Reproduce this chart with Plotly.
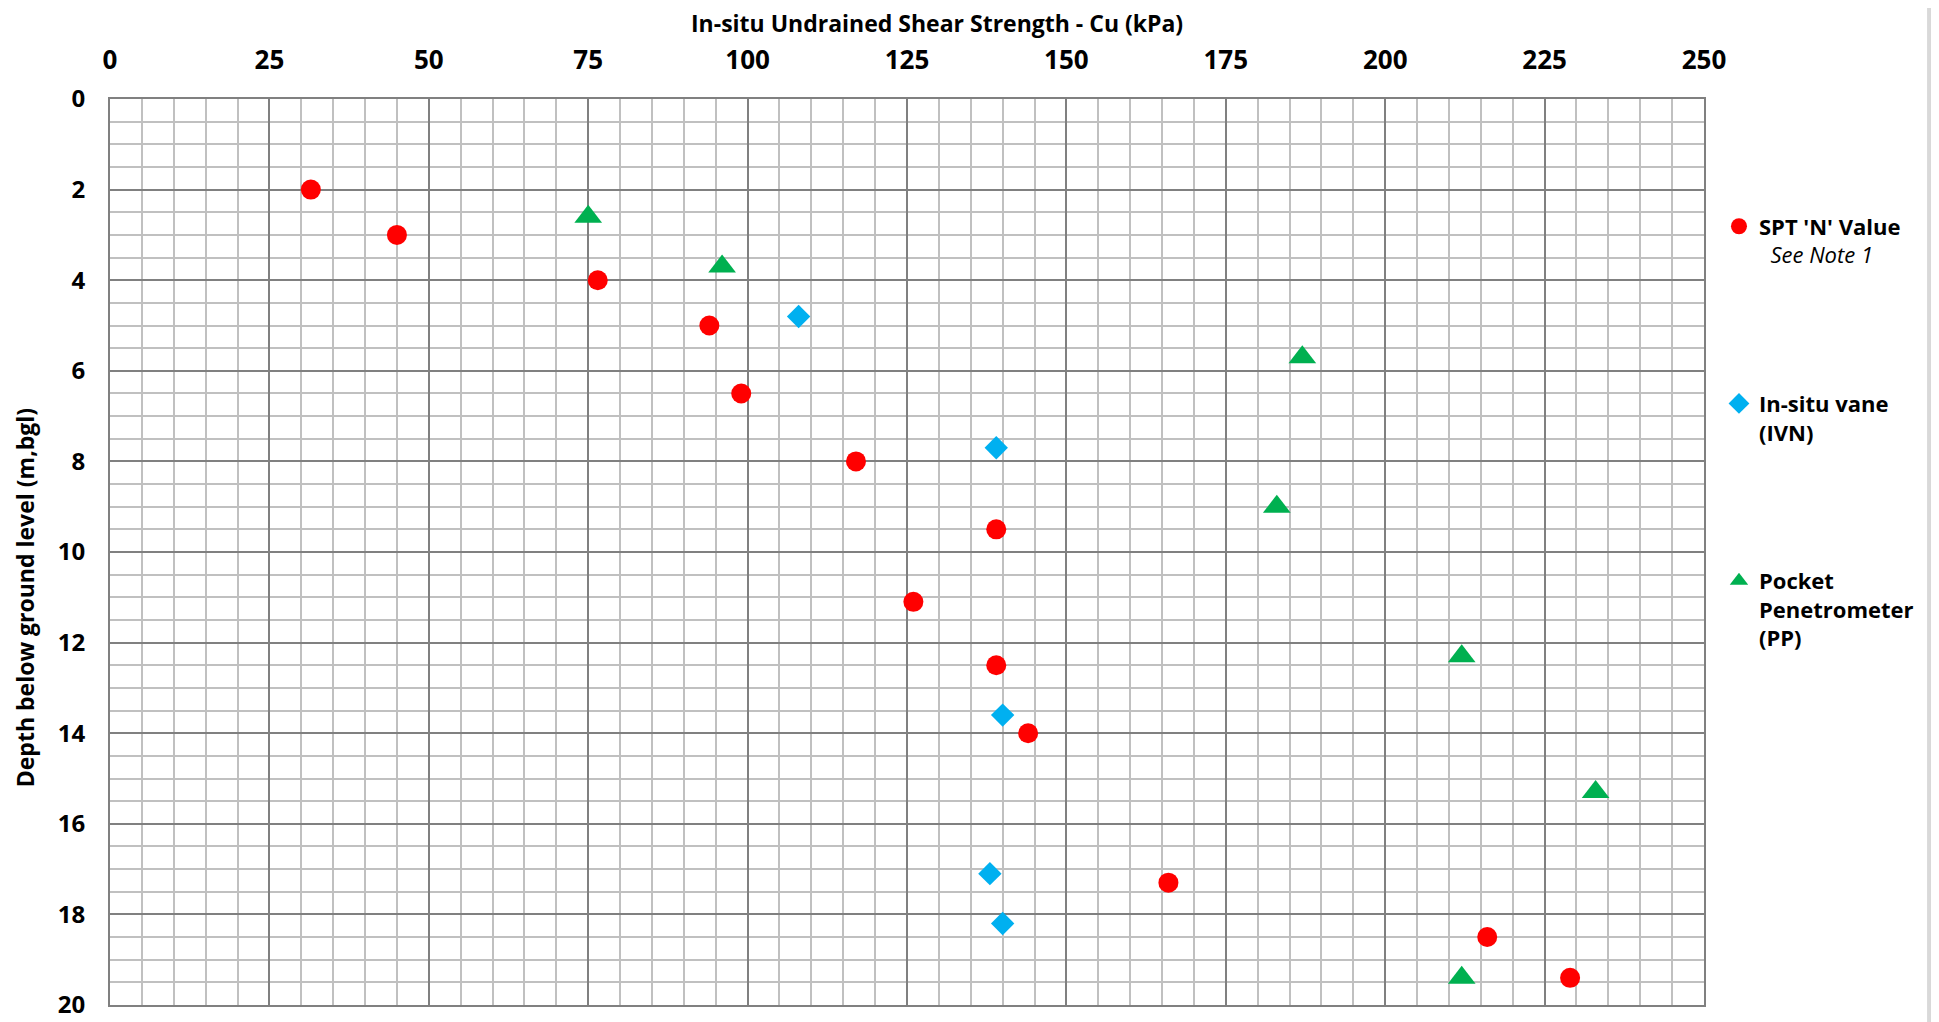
import plotly.graph_objects as go

# SPT 'N' value derived Cu (kPa) vs depth (m)
spt_cu = [31.5, 45, 76.5, 94, 99, 117, 139, 126, 139, 144, 166, 216, 229]
spt_depth = [2, 3, 4, 5, 6.5, 8, 9.5, 11.1, 12.5, 14, 17.3, 18.5, 19.4]

# In-situ vane
ivn_cu = [108, 139, 140, 138, 140]
ivn_depth = [4.8, 7.7, 13.6, 17.1, 18.2]

# Pocket penetrometer
pp_cu = [75, 96, 187, 183, 212, 233, 212]
pp_depth = [2.6, 3.7, 5.7, 9.0, 12.3, 15.3, 19.4]

FONT = "Open Sans"

fig = go.Figure()

fig.add_trace(go.Scatter(
    x=spt_cu, y=spt_depth, mode="markers",
    name="<b>SPT 'N' Value</b><br>  <i>See Note 1</i>",
    legendgroup="spt",
    marker=dict(symbol="circle", size=20, color="#FF0000"),
))
fig.add_trace(go.Scatter(
    x=ivn_cu, y=ivn_depth, mode="markers",
    name="<b>In-situ vane<br>(IVN)</b>",
    legendgroup="ivn",
    marker=dict(symbol="diamond", size=18, color="#00B0F0"),
))
fig.add_trace(go.Scatter(
    x=pp_cu, y=pp_depth, mode="markers",
    name="<b>Pocket<br>Penetrometer<br>(PP)</b>",
    legendgroup="pp",
    marker=dict(symbol="triangle-up", size=24, color="#00B050"),
))

fig.update_xaxes(
    side="top", range=[0, 250], tickvals=list(range(0, 251, 25)),
    showgrid=True, gridcolor="#808080", gridwidth=2,
    minor=dict(dtick=5, showgrid=True, gridcolor="#C0C0C0", gridwidth=2),
    showline=True, linecolor="#808080", linewidth=2, mirror=True,
    zeroline=False, ticks="", ticklabelstandoff=18, automargin=False,
    ticklabeloverflow="allow",
    tickfont=dict(family=FONT, size=26, color="black", weight="bold"),
)
fig.update_yaxes(
    range=[20, 0], tickvals=list(range(0, 21, 2)),
    showgrid=True, gridcolor="#808080", gridwidth=2,
    minor=dict(dtick=0.5, showgrid=True, gridcolor="#C0C0C0", gridwidth=2),
    showline=True, linecolor="#808080", linewidth=2, mirror=True,
    zeroline=False, ticks="", ticklabelstandoff=18, automargin=False,
    ticklabeloverflow="allow",
    tickfont=dict(family=FONT, size=24, color="black", weight="bold"),
)

# axis titles
fig.add_annotation(
    text="<b>In-situ Undrained Shear Strength - Cu (kPa)</b>",
    xref="paper", yref="paper", x=0.519, y=1.084,
    showarrow=False, xanchor="center", yanchor="middle",
    font=dict(family=FONT, size=23, color="black"),
)
fig.add_annotation(
    text="<b>Depth below ground level (m,bgl)</b>",
    xref="paper", yref="paper", x=-0.0533, y=0.449,
    textangle=-90, showarrow=False, xanchor="center", yanchor="middle",
    font=dict(family=FONT, size=23, color="black"),
)

# chart area border on the right
fig.add_shape(type="line", xref="paper", yref="paper",
              x0=1.1412, x1=1.1412, y0=-0.03, y1=1.11,
              line=dict(color="#D9D9D9", width=4))

fig.update_layout(
    width=1931, height=1014,
    margin=dict(l=102, r=235, t=91, b=17),
    paper_bgcolor="white", plot_bgcolor="white",
    showlegend=True,
    legend=dict(
        x=1.0094, y=0.8825, xanchor="left", yanchor="top",
        font=dict(family=FONT, size=22, color="black"),
        tracegroupgap=117, valign="top", itemwidth=30,
        bgcolor="rgba(0,0,0,0)",
    ),
)

fig.write_html("out.html")
